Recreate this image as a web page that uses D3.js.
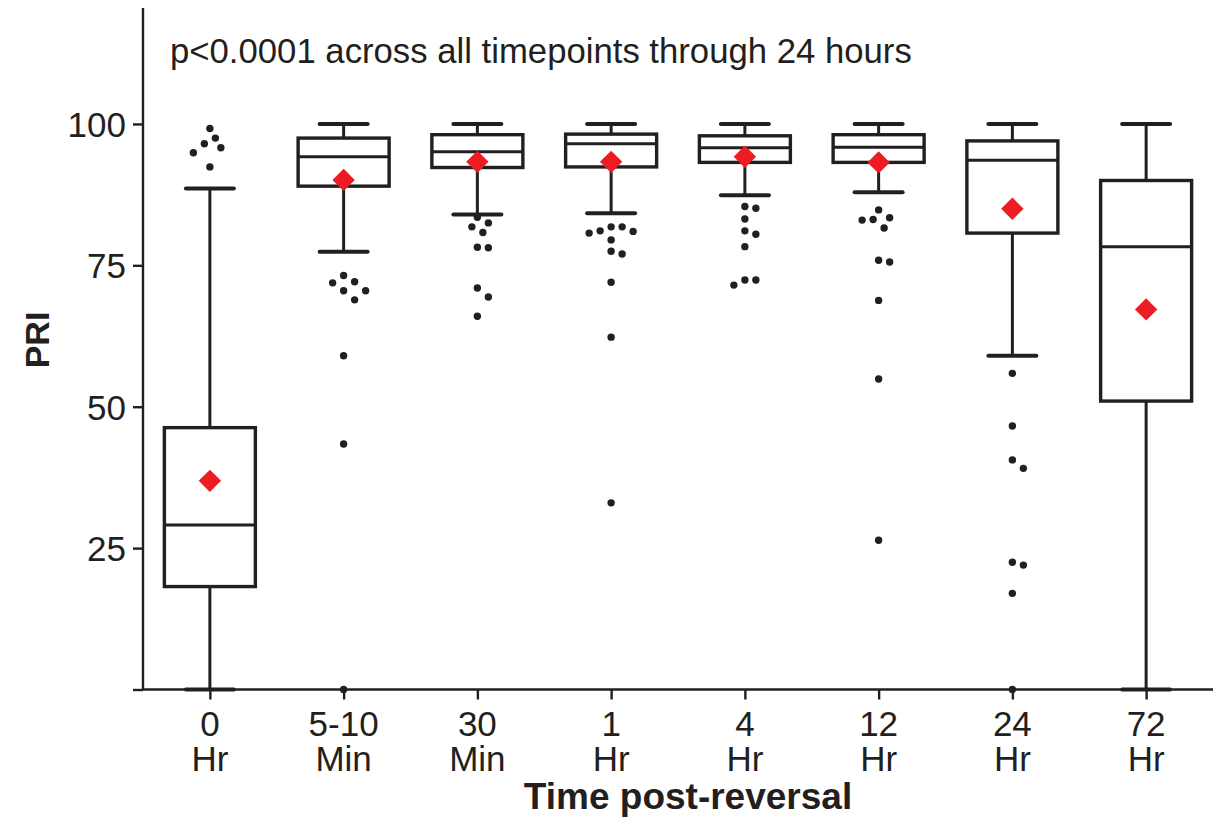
<!DOCTYPE html>
<html><head><meta charset="utf-8">
<script src="https://cdn.jsdelivr.net/npm/d3@7"></script>
<style>
html,body{margin:0;padding:0;background:#fff;}
svg{display:block;font-family:"Liberation Sans",Arial,sans-serif;}
</style></head>
<body><svg id="chart" width="1222" height="817"></svg>
<script>
// ---- data ----
const categories = ["0|Hr","5-10|Min","30|Min","1|Hr","4|Hr","12|Hr","24|Hr","72|Hr"];
const whiskerLow  = [0,    77.4, 84.0, 84.2, 87.4, 87.9, 59.0, 0];
const q1          = [18.2, 89.0, 92.3, 92.4, 93.2, 93.2, 80.7, 51.0];
const medians     = [29.1, 94.2, 95.1, 96.5, 95.8, 95.9, 93.6, 78.3];
const q3          = [46.3, 97.5, 98.1, 98.2, 97.9, 98.1, 97.0, 90.0];
const whiskerHigh = [88.6, 100,  100,  100,  100,  100,  100,  100];
const means       = [36.9, 90.1, 93.3, 93.3, 94.2, 93.2, 85.0, 67.2];
const outliers = [
  [99.2, 97.5, 96.5, 95.8, 94.9, 92.4],
  [73.2, 72.1, 71.9, 70.5, 70.5, 68.9, 59.0, 43.4, 0],
  [83.5, 82.5, 81.8, 80.8, 78.2, 78.1, 71.0, 69.4, 66.0],
  [81.8, 81.8, 81.1, 81.0, 80.7, 79.5, 77.5, 77.0, 72.0, 62.3, 33.0],
  [85.4, 85.1, 83.2, 81.1, 80.5, 78.3, 72.4, 72.4, 71.5],
  [84.8, 83.4, 83.1, 83.0, 81.6, 75.9, 75.6, 68.8, 54.9, 26.4],
  [55.9, 46.6, 40.6, 39.1, 22.5, 22.0, 17.0, 0],
  []
];
const yTicks = [0, 25, 50, 75, 100];
const yTickLabels = ["", "25", "50", "75", "100"];
const annotation = "p<0.0001 across all timepoints through 24 hours";
const xTitle = "Time post-reversal";
const yTitle = "PRI";

// ---- layout ----
const ink = "#231f20";
const svg = d3.select("#chart");
const mLeft = 143, mRight = 1213, mTop = 8, mBottom = 689.5;
const x = d3.scalePoint().domain(categories).range([mLeft, mRight]).padding(0.5);
const y = d3.scaleLinear().domain([0, 120.5]).range([mBottom, mTop]);
const boxW = 91, capW = 48;

// axes
const yAxis = svg.append("g").attr("transform", `translate(${mLeft},0)`)
  .call(d3.axisLeft(y).tickValues(yTicks).tickFormat((d,i)=>yTickLabels[i]).tickSize(10).tickPadding(7).tickSizeOuter(0));
const xAxis = svg.append("g").attr("transform", `translate(0,${mBottom})`)
  .call(d3.axisBottom(x).tickSize(10).tickSizeOuter(0).tickFormat(""));
[yAxis, xAxis].forEach(g => {
  g.select(".domain").attr("stroke", ink).attr("stroke-width", 2.4);
  g.selectAll(".tick line").attr("stroke", ink).attr("stroke-width", 2.4);
});
yAxis.select(".domain").attr("d", `M0,${mTop}V${mBottom}`);
xAxis.select(".domain").attr("d", `M${mLeft},0H${mRight}`);
yAxis.selectAll(".tick text").attr("fill", ink).attr("font-size", 35).attr("font-family","Liberation Sans, Arial, sans-serif").attr("dy","0.36em");

// x tick labels (two lines)
const xl = svg.append("g");
categories.forEach(c => {
  const parts = c.split("|");
  const t = xl.append("text").attr("x", x(c)).attr("text-anchor","middle")
    .attr("fill", ink).attr("font-size", 35);
  t.append("tspan").attr("x", x(c)).attr("y", 736).text(parts[0]);
  t.append("tspan").attr("x", x(c)).attr("y", 771).text(parts[1]);
});

// titles
svg.append("text").attr("x", 688).attr("y", 809).attr("text-anchor","middle")
  .attr("font-weight","bold").attr("font-size", 37).attr("fill", ink).text(xTitle);
svg.append("text").attr("transform", `translate(49,340) rotate(-90)`).attr("text-anchor","middle")
  .attr("font-weight","bold").attr("font-size", 34).attr("fill", ink).text(yTitle);

// annotation
const ann = svg.append("text").attr("x", 170).attr("y", 63).attr("font-size", 31).attr("fill", ink).text(annotation);
const L = ann.node().getComputedTextLength();
ann.attr("font-size", 31 * 742 / L);

// boxes
const g = svg.append("g");
categories.forEach((c, i) => {
  const cx = x(c);
  // whiskers
  g.append("line").attr("x1",cx).attr("x2",cx).attr("y1",y(q3[i])).attr("y2",y(whiskerHigh[i]))
    .attr("stroke",ink).attr("stroke-width",3);
  g.append("line").attr("x1",cx).attr("x2",cx).attr("y1",y(q1[i])).attr("y2",y(whiskerLow[i]))
    .attr("stroke",ink).attr("stroke-width",3);
  [whiskerHigh[i], whiskerLow[i]].forEach(v => {
    g.append("line").attr("x1",cx-capW/2).attr("x2",cx+capW/2).attr("y1",y(v)).attr("y2",y(v))
      .attr("stroke",ink).attr("stroke-width",4).attr("stroke-linecap","round");
  });
  // box
  g.append("rect").attr("x",cx-boxW/2).attr("width",boxW).attr("y",y(q3[i])).attr("height",y(q1[i])-y(q3[i]))
    .attr("fill","none").attr("stroke",ink).attr("stroke-width",3.4);
  g.append("line").attr("x1",cx-boxW/2).attr("x2",cx+boxW/2).attr("y1",y(medians[i])).attr("y2",y(medians[i]))
    .attr("stroke",ink).attr("stroke-width",3);
  // outliers with simple dodge
  const placed = [];
  const step = 5.5, r = 3.7, minD = 11;
  outliers[i].slice().sort((a,b)=>b-a).forEach(v => {
    const py = y(v);
    let off = 0;
    for (let k = 0; k < 20; k++) {
      const cand = k === 0 ? 0 : (k % 2 ? 1 : -1) * Math.ceil(k/2) * step;
      if (placed.every(p => Math.hypot(p[0]-cand, p[1]-py) >= minD)) { off = cand; break; }
    }
    placed.push([off, py]);
    g.append("circle").attr("cx", cx+off).attr("cy", py).attr("r", r).attr("fill", ink);
  });
  // mean diamond
  g.append("path").attr("d", d3.symbol(d3.symbolSquare, 250)())
    .attr("transform", `translate(${cx},${y(means[i])}) rotate(45)`).attr("fill","#ed1c24");
});
</script></body></html>
